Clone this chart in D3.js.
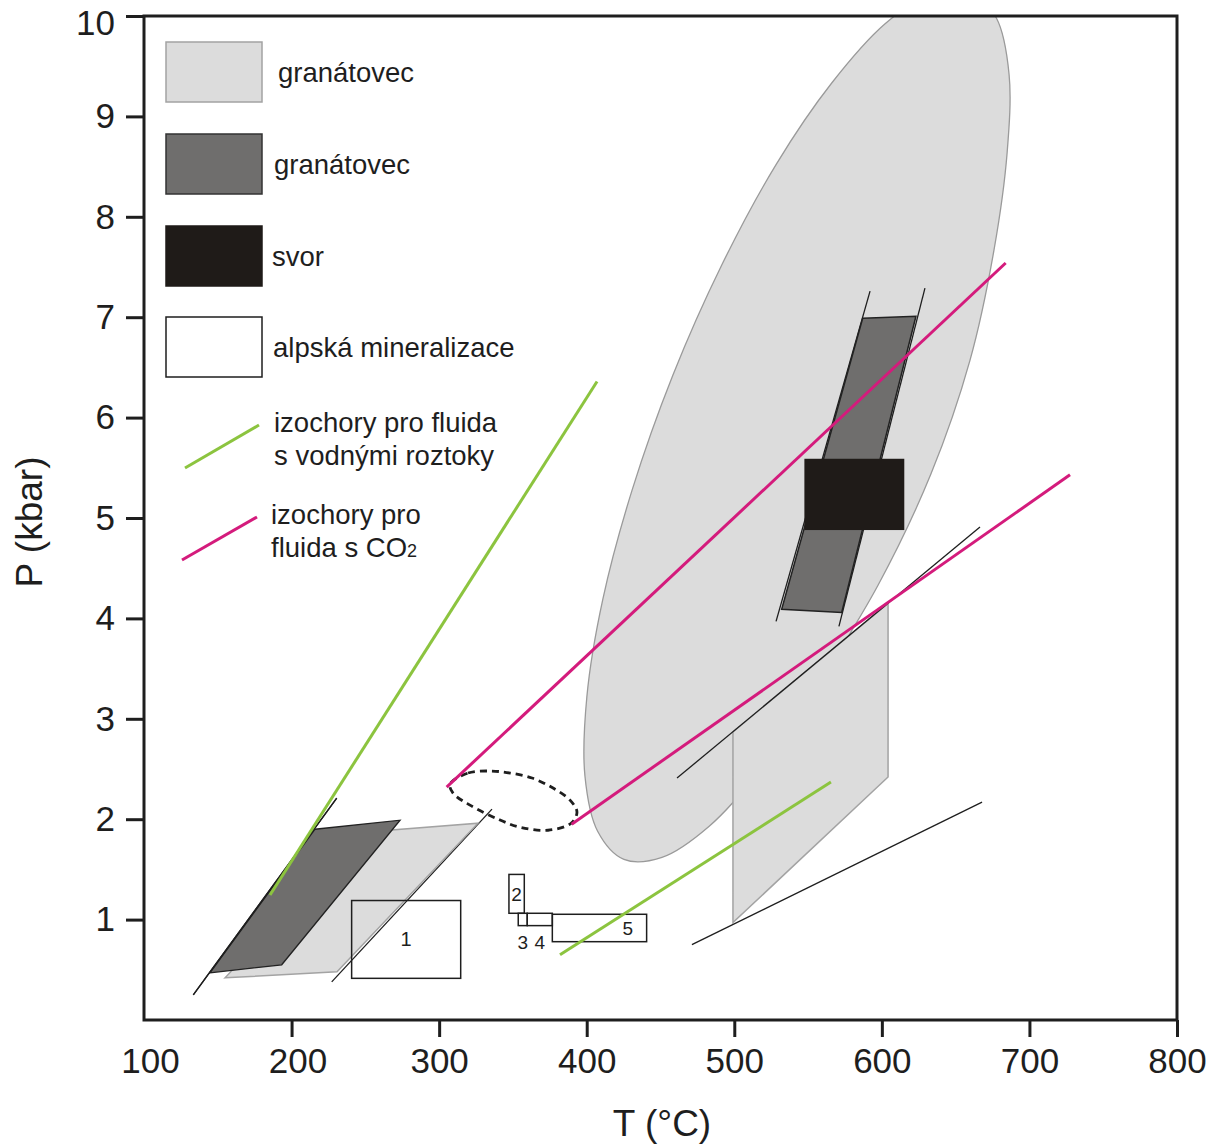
<!DOCTYPE html>
<html><head><meta charset="utf-8">
<script src="https://cdn.jsdelivr.net/npm/d3@7"></script>
<style>
body{margin:0;background:#fff;}
text{font-family:"Liberation Sans", Arial, sans-serif; fill:#1e1e1e;}
</style>
</head><body>
<svg id="c" width="1226" height="1146"></svg>
<script>
// ---------- data (T in °C, P in kbar) ----------
const tempTicks = [100,200,300,400,500,600,700,800];
const pressTicks = [1,2,3,4,5,6,7,8,9,10];

// light grey field – large elongated garnet-rock field outline (clipped by frame at top)
const garnetEllipse = [[659.8,10.25],[677.6,9.98],[686.2,9.42],[684.9,8.64],[676.0,7.67],[659.7,6.57],
  [633.3,5.44],[597.4,4.33],[556.7,3.34],[519.1,2.52],[483.0,1.93],[451.0,1.62],[425.2,1.60],[407.4,1.88],
  [398.8,2.43],[400.1,3.22],[410.9,4.19],[430.8,5.28],[458.3,6.42],[491.5,7.52],[528.3,8.52],[565.9,9.33],
  [602.0,9.92],[634.0,10.23]];
// light grey field – vertical band below it
const garnetBandLight = [[499.1,2.87],[604.2,4.15],[604.2,2.42],[499.1,0.97]];
// light grey field – low T
const garnetLowLight = [[154.9,0.42],[230.8,0.48],[326.3,1.96],[248.4,1.87]];
// dark grey fields
const garnetDarkHigh = [[587.0,6.99],[623.1,7.01],[572.8,4.06],[532.1,4.09]];
const garnetDarkLow = [[144.7,0.47],[193.3,0.55],[273.5,1.99],[215.9,1.90]];
// black field – svor (schist)
const svorField = {t0:547.5, t1:615.2, p0:4.88, p1:5.59};
// thin black boundary lines
const blackLines = [
  [[592.0,7.26],[528.3,3.97]],
  [[629.2,7.29],[570.9,3.92]],
  [[461.2,2.41],[666.5,4.91]],
  [[471.3,0.75],[667.9,2.17]],
  [[133.4,0.25],[230.6,2.21]],
  [[227.2,0.38],[335.8,2.10]]
];
// alpine mineralisation boxes
const alpineIds = ["1","2","3","4","5"];
const alpineT = [[240.7,314.6],[347.3,357.7],[353.6,359.7],[359.7,376.7],[376.7,440.6]];
const alpineP = [[0.415,1.19],[1.063,1.45],[0.94,1.063],[0.94,1.063],[0.78,1.053]];
// isochores
const isoAqueous = [
  [[185.4,1.245],[407.0,6.36]],
  [[381.9,0.65],[565.5,2.37]]
];
const isoCO2 = [
  [[305.1,2.32],[683.9,7.54]],
  [[389.8,1.95],[727.5,5.43]]
];
// dashed lens
const dashedLens = [[307.4,2.35],[319.6,2.46],[334.5,2.48],[348.0,2.46],[362.9,2.41],[377.2,2.31],
  [388.7,2.19],[393.4,2.07],[389.4,1.96],[373.8,1.89],[354.8,1.92],[339.9,2.00],[320.9,2.14],[309.4,2.26]];

const legendSwatchLabels = ["granátovec","granátovec","svor","alpská mineralizace"];
const legendLineLabels = [["izochory pro fluida","s vodnými roztoky"],["izochory pro","fluida s CO"]];

// ---------- drawing ----------
const LIGHT="#dcdcdc", LIGHT_S="#a3a3a3", DARK="#6f6e6d", BLACKF="#1f1b18", INK="#1e1e1e";
const GREEN="#8cc43f", MAGENTA="#d41b7c";

const svg = d3.select("#c");
const x = d3.scaleLinear().domain([100,800]).range([144,1177]);
const y = d3.scaleLinear().domain([0,10]).range([1020,16]);

svg.append("defs").append("clipPath").attr("id","plot")
  .append("rect").attr("x",x(100)).attr("y",y(10)).attr("width",x(800)-x(100)).attr("height",y(0)-y(10));

const g = svg.append("g").attr("clip-path","url(#plot)");
const poly = d3.line().x(d=>x(d[0])).y(d=>y(d[1])).curve(d3.curveLinearClosed);
const smooth = d3.line().x(d=>x(d[0])).y(d=>y(d[1])).curve(d3.curveCatmullRomClosed.alpha(0.5));
const seg = d3.line().x(d=>x(d[0])).y(d=>y(d[1]));

g.append("path").attr("d",smooth(garnetEllipse)).attr("fill",LIGHT).attr("stroke","#9a9a9a").attr("stroke-width",1.3);
g.append("path").attr("d",poly(garnetBandLight)).attr("fill",LIGHT).attr("stroke",LIGHT_S).attr("stroke-width",1.5);

// thin black lines
g.selectAll("path.bl").data(blackLines).join("path").attr("class","bl")
  .attr("d",seg).attr("fill","none").attr("stroke",INK).attr("stroke-width",1.3);

g.append("path").attr("d",poly(garnetDarkHigh)).attr("fill",DARK).attr("stroke","#222").attr("stroke-width",1.5);
g.append("rect").attr("x",x(svorField.t0)).attr("y",y(svorField.p1))
  .attr("width",x(svorField.t1)-x(svorField.t0)).attr("height",y(svorField.p0)-y(svorField.p1))
  .attr("fill",BLACKF);

g.append("path").attr("d",poly(garnetLowLight)).attr("fill",LIGHT).attr("stroke",LIGHT_S).attr("stroke-width",1.5);
g.append("path").attr("d",poly(garnetDarkLow)).attr("fill",DARK).attr("stroke","#222").attr("stroke-width",1.3);
g.append("path").attr("d",seg(blackLines[4])).attr("fill","none").attr("stroke",INK).attr("stroke-width",1.3);

// alpine boxes
alpineIds.forEach((id,i)=>{
  const [t0,t1]=alpineT[i], [p0,p1]=alpineP[i];
  g.append("rect").attr("x",x(t0)).attr("y",y(p1)).attr("width",x(t1)-x(t0)).attr("height",y(p0)-y(p1))
    .attr("fill","none").attr("stroke",INK).attr("stroke-width",1.5);
  let tx, ty;
  if (id==="3"||id==="4"){ tx=(x(t0)+x(t1))/2; ty=y(p0)+23; }
  else if (id==="5"){ tx=x(t0)+(x(t1)-x(t0))*0.8; ty=(y(p0)+y(p1))/2+7; }
  else { tx=(x(t0)+x(t1))/2; ty=(y(p0)+y(p1))/2+7; }
  g.append("text").attr("x",tx).attr("y",ty).attr("text-anchor","middle")
    .attr("font-size", id==="1"?20:19).text(id);
});

// dashed lens
g.append("path").attr("d",smooth(dashedLens)).attr("fill","none").attr("stroke",INK)
  .attr("stroke-width",2.8).attr("stroke-dasharray","7,5");

// isochores
g.selectAll("path.aq").data(isoAqueous).join("path").attr("class","aq")
  .attr("d",seg).attr("fill","none").attr("stroke",GREEN).attr("stroke-width",3);
g.selectAll("path.co").data(isoCO2).join("path").attr("class","co")
  .attr("d",seg).attr("fill","none").attr("stroke",MAGENTA).attr("stroke-width",3);

// axes
const xAxis = svg.append("g").attr("transform",`translate(0,${y(0)})`)
  .call(d3.axisBottom(x).tickValues(tempTicks).tickSize(17).tickSizeOuter(0).tickPadding(11).tickFormat(d3.format("d")));
const yAxis = svg.append("g").attr("transform",`translate(${x(100)},0)`)
  .call(d3.axisLeft(y).tickValues(pressTicks).tickSize(18).tickSizeOuter(0).tickPadding(11).tickFormat(d3.format("d")));
[xAxis,yAxis].forEach(a=>{
  a.select(".domain").remove();
  a.selectAll("line").attr("stroke",INK).attr("stroke-width",3);
  a.selectAll("text").attr("font-size",35).attr("font-family",'"Liberation Sans", Arial, sans-serif').attr("fill",INK);
});
xAxis.selectAll(".tick").filter(d=>d===100).select("line").remove();
xAxis.selectAll(".tick").filter(d=>d===100||d===200).select("text").attr("dx",6);
yAxis.selectAll(".tick").filter(d=>d===10).select("text").attr("dy","0.52em");

// frame
svg.append("rect").attr("x",x(100)).attr("y",y(10)).attr("width",x(800)-x(100)).attr("height",y(0)-y(10))
  .attr("fill","none").attr("stroke",INK).attr("stroke-width",3);

// axis titles
svg.append("text").attr("x",662).attr("y",1136).attr("text-anchor","middle").attr("font-size",37).text("T (°C)");
svg.append("text").attr("transform","translate(42,522) rotate(-90)").attr("text-anchor","middle").attr("font-size",37).text("P (kbar)");

// legend
const sw = [
  {fill:LIGHT, stroke:LIGHT_S},
  {fill:DARK, stroke:"#333"},
  {fill:BLACKF, stroke:BLACKF},
  {fill:"#fff", stroke:INK}
];
const swY = [42,134,226,317];
const txX = [278,274,272,273];
legendSwatchLabels.forEach((lab,i)=>{
  svg.append("rect").attr("x",166).attr("y",swY[i]).attr("width",96).attr("height",60)
    .attr("fill",sw[i].fill).attr("stroke",sw[i].stroke).attr("stroke-width",1.5);
  svg.append("text").attr("x",txX[i]).attr("y",swY[i]+40).attr("font-size",27.5).text(lab);
});
svg.append("line").attr("x1",185).attr("y1",468).attr("x2",259).attr("y2",425).attr("stroke",GREEN).attr("stroke-width",3);
svg.append("line").attr("x1",182).attr("y1",560).attr("x2",257).attr("y2",517).attr("stroke",MAGENTA).attr("stroke-width",3);
legendLineLabels[0].forEach((l,k)=>svg.append("text").attr("x",274).attr("y",432+33*k).attr("font-size",27.5).text(l));
legendLineLabels[1].forEach((l,k)=>{
  const t = svg.append("text").attr("x",271).attr("y",524+33*k).attr("font-size",27.5).text(l);
  if (k===1) t.append("tspan").attr("font-size",18).text("2");
});
</script>
</body></html>
